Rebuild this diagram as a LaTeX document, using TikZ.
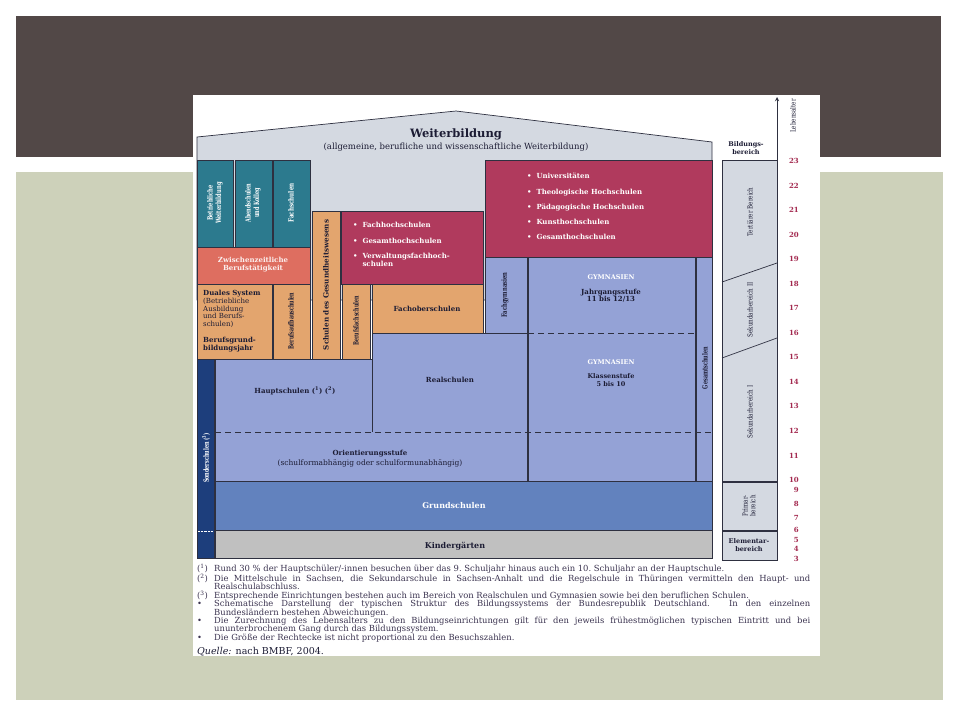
\documentclass[tikz,border=0pt]{standalone}
\usepackage{fontspec}
\setmainfont{DejaVu Serif}
\definecolor{slidedark}{HTML}{524847}
\definecolor{slidegreen}{HTML}{CDD1BA}
\definecolor{roofgrey}{HTML}{D4D9E1}
\definecolor{edgegrey}{HTML}{2E3040}
\definecolor{tealbox}{HTML}{2C7A8E}
\definecolor{salmonbox}{HTML}{DE6E60}
\definecolor{orangebox}{HTML}{E3A56E}
\definecolor{crimsonbox}{HTML}{B03A5D}
\definecolor{lightblue}{HTML}{94A2D6}
\definecolor{midblue}{HTML}{6282BE}
\definecolor{navybox}{HTML}{1D3E7C}
\definecolor{kigagrey}{HTML}{C0C0C0}
\definecolor{darktext}{HTML}{1C1C34}
\definecolor{agered}{HTML}{A3294F}
\definecolor{notetext}{HTML}{3B3350}
\begin{document}
\begin{tikzpicture}[x=1pt,y=-1pt,
  boxline/.style={draw=edgegrey,line width=0.7pt},
  boxtext/.style={font=\fontsize{7}{7.8}\selectfont\bfseries,text=darktext,align=center,inner sep=0pt},
  whitetext/.style={boxtext,text=white},
  vtext/.style={font=\fontsize{7.2}{8.4}\selectfont\bfseries,text=darktext,align=center,inner sep=0pt,rotate=90,xscale=#1},
  vtext/.default=0.72,
  scaletext/.style={font=\fontsize{7}{7.6}\selectfont,text=darktext,align=center,inner sep=0pt,rotate=90,xscale=0.8},
  agenum/.style={font=\fontsize{7}{8}\selectfont\bfseries,text=agered,inner sep=0pt,anchor=east},
  gapline/.style={draw=edgegrey,line width=0.7pt,dash pattern=on 6pt off 4pt}]
\useasboundingbox (0,0) rectangle (960,720);

% Draw the slide background
\fill[white] (0,0) rectangle (960,720);
\fill[slidedark] (16,16) rectangle (941,157);
\fill[slidegreen] (16,172) rectangle (943,700);
\fill[white] (193,95) rectangle (820,656);

% Draw the roof
\filldraw[boxline,fill=roofgrey] (197,300) -- (197,137) -- (456,111) -- (712,142) -- (712,300) -- cycle;
\node[font=\fontsize{11.5}{12}\selectfont\bfseries,text=darktext] (weiter) at (456,134) {Weiterbildung};
\node[font=\fontsize{8.5}{9}\selectfont,text=darktext] (weitersub) at (456,147) {(allgemeine, berufliche und wissenschaftliche Weiterbildung)};

% Draw the boxes of the tertiary level
\filldraw[boxline,fill=tealbox] (197,160) rectangle (233,247);
\filldraw[boxline,fill=tealbox] (235,160) rectangle (272,247);
\filldraw[boxline,fill=tealbox] (273,160) rectangle (310,247);
\filldraw[boxline,fill=salmonbox] (197,247) rectangle (310,284);
\filldraw[boxline,fill=crimsonbox] (341,211) rectangle (483,284);
\filldraw[boxline,fill=crimsonbox] (485,160) rectangle (712,257);

% Draw the vocational boxes
\filldraw[boxline,fill=orangebox] (197,284) rectangle (272,359);
\filldraw[boxline,fill=orangebox] (273,284) rectangle (310,359);
\filldraw[boxline,fill=orangebox] (312,211) rectangle (340,359);
\filldraw[boxline,fill=orangebox] (342,284) rectangle (370,359);
\filldraw[boxline,fill=orangebox] (372,284) rectangle (483,333);

% Draw the secondary schools
\filldraw[boxline,fill=lightblue] (215,359) -- (372,359) -- (372,333) -- (485,333) -- (485,257) -- (712,257) -- (712,481) -- (215,481) -- cycle;
\draw[boxline] (485,257) rectangle (527,333);
\draw[boxline] (372,333) -- (372,432);
\draw[edgegrey,line width=1.4pt] (528,257) -- (528,481);
\draw[edgegrey,line width=1.4pt] (696,257) -- (696,481);
\draw[gapline] (528,333) -- (696,333);
\draw[gapline] (215,432) -- (712,432);

% Draw the primary and pre-school level
\filldraw[boxline,fill=navybox] (197,359) rectangle (214,558);
\draw[white,densely dotted] (198,531) -- (213,531);
\filldraw[boxline,fill=midblue] (215,481) rectangle (712,530);
\filldraw[boxline,fill=kigagrey] (215,530) rectangle (712,558);

% Label the boxes
\node[vtext,text=white] (betrieb) at (215,203) {Betriebliche\\Weiterbildung};
\node[vtext=0.68,text=white] (abend) at (253,203) {Abendschulen\\und Kolleg};
\node[vtext=0.78,text=white] (fachsch) at (291,203) {Fachschulen};
\node[whitetext,text=white!90!salmonbox] (zwischen) at (253,265) {Zwischenzeitliche\\Berufstätigkeit};
\node[boxtext,align=left,anchor=north west] (duales) at (203,290) {Duales System\\\mdseries(Betriebliche\\\mdseries Ausbildung\\\mdseries und Berufs-\\\mdseries schulen)\\[8pt]Berufsgrund-\\bildungsjahr};
\node[vtext=0.66] (aufbau) at (291,321) {Berufsaufbauschulen};
\node[vtext=1] (gesund) at (326,285) {Schulen des Gesundheitswesens};
\node[vtext=0.66] (bfs) at (356,321) {Berufsfachschulen};
\node[boxtext] (fos) at (427,309) {Fachoberschulen};
\node[whitetext,align=left,anchor=north west] (fhs) at (353,222) {•\ \ Fachhochschulen\\[7.7pt]•\ \ Gesamthochschulen\\[7.5pt]•\ \ Verwaltungsfachhoch-\\\phantom{•\ \ }schulen};
\node[whitetext,align=left,anchor=north west] (uni) at (527,173) {•\ \ Universitäten\\[7.5pt]•\ \ Theologische Hochschulen\\[7.5pt]•\ \ Pädagogische Hochschulen\\[7.5pt]•\ \ Kunsthochschulen\\[7.5pt]•\ \ Gesamthochschulen};
\node[vtext] (fachgym) at (505,295) {Fachgymnasien};
\node[whitetext,font=\fontsize{6.5}{7}\selectfont\bfseries] (gymoben) at (611,277) {GYMNASIEN};
\node[boxtext,font=\fontsize{7}{7.3}\selectfont\bfseries] (jahrgang) at (611,296) {Jahrgangsstufe\\11 bis 12/13};
\node[whitetext,font=\fontsize{6.5}{7}\selectfont\bfseries] (gymunten) at (611,362) {GYMNASIEN};
\node[boxtext,font=\fontsize{6.5}{7.3}\selectfont\bfseries] (klasse) at (611,380) {Klassenstufe\\5 bis 10};
\node[vtext=0.68] (gesamt) at (705,368) {Gesamtschulen};
\node[boxtext] (real) at (450,380) {Realschulen};
\node[boxtext] (haupt) at (295,391) {Hauptschulen (\textsuperscript{1}) (\textsuperscript{2})};
\node[boxtext] (orient) at (370,454) {Orientierungsstufe};
\node[boxtext,font=\fontsize{7.5}{8}\selectfont] (orientsub) at (370,463) {(schulformabhängig oder schulformunabhängig)};
\node[vtext=0.68,text=white] (sonder) at (206,458) {Sonderschulen (\textsuperscript{3})};
\node[whitetext,font=\fontsize{8}{9}\selectfont\bfseries] (grund) at (454,506) {Grundschulen};
\node[boxtext,font=\fontsize{8}{9}\selectfont\bfseries] (kiga) at (455,546) {Kindergärten};

% Draw the scale of the education levels
\filldraw[boxline,fill=roofgrey] (722,160) rectangle (777,481);
\draw[boxline] (722,282) -- (777,263);
\draw[boxline] (722,358) -- (777,338);
\filldraw[boxline,fill=roofgrey] (722,482) rectangle (777,530);
\filldraw[boxline,fill=roofgrey] (722,531) rectangle (777,560);
\coordinate (axisfoot) at (777,560);
\coordinate (axistop) at (777,97);
\draw[edgegrey,line width=0.9pt,-stealth] (axisfoot) -- (axistop);
\node[boxtext,font=\fontsize{6.5}{7.2}\selectfont\bfseries] (bereich) at (746,148) {Bildungs-\\bereich};
\node[scaletext] (tertiaer) at (750,212) {Tertiärer Bereich};
\node[scaletext] (sekzwei) at (750,310) {Sekundarbereich II};
\node[scaletext] (sekeins) at (750,412) {Sekundarbereich I};
\node[scaletext] (primar) at (749,506) {Primar-\\bereich};
\node[boxtext,font=\fontsize{6.5}{7.2}\selectfont\bfseries] (elementar) at (749,545) {Elementar-\\bereich};
\node[scaletext] (alter) at (793,116) {Lebensalter};
\foreach \a/\y in {23/161,22/186,21/210,20/235,19/259,18/284,17/308,16/333,15/357,14/382,13/406,12/431,11/456,10/480,9/490,8/504,7/518,6/530,5/540,4/549,3/559}
  \node[agenum] (age\a) at (799,\y) {\a};

% Write the footnotes
\node[anchor=north west,text width=613pt,align=justify,inner sep=0pt,text=notetext,font=\fontsize{8.4}{8.4}\selectfont] (notes) at (197,564) {%
\hangindent=17pt\hangafter=1\noindent\makebox[17pt][l]{(\textsuperscript{1})}Rund 30~\% der Hauptschüler/-innen besuchen über das 9.~Schuljahr hinaus auch ein 10.~Schuljahr an der Hauptschule.\par
\hangindent=17pt\hangafter=1\noindent\makebox[17pt][l]{(\textsuperscript{2})}Die Mittelschule in Sachsen, die Sekundarschule in Sachsen-Anhalt und die Regelschule in Thüringen vermitteln den Haupt- und\linebreak Realschulabschluss.\par
\hangindent=17pt\hangafter=1\noindent\makebox[17pt][l]{(\textsuperscript{3})}Entsprechende Einrichtungen bestehen auch im Bereich von Realschulen und Gymnasien sowie bei den beruflichen Schulen.\par
\hangindent=17pt\hangafter=1\noindent\makebox[17pt][l]{•}Schematische Darstellung der typischen Struktur des Bildungssystems der Bundesrepublik Deutschland. In den einzelnen\linebreak Bundesländern bestehen Abweichungen.\par
\hangindent=17pt\hangafter=1\noindent\makebox[17pt][l]{•}Die Zurechnung des Lebensalters zu den Bildungseinrichtungen gilt für den jeweils frühestmöglichen typischen Eintritt und bei\linebreak ununterbrochenem Gang durch das Bildungssystem.\par
\hangindent=17pt\hangafter=1\noindent\makebox[17pt][l]{•}Die Größe der Rechtecke ist nicht proportional zu den Besuchszahlen.\par};
\node[anchor=west,inner sep=0pt,text=darktext,font=\fontsize{9.5}{10}\selectfont] (quelle) at (197,652) {\textit{Quelle:} nach BMBF, 2004.};

\end{tikzpicture}
\end{document}
